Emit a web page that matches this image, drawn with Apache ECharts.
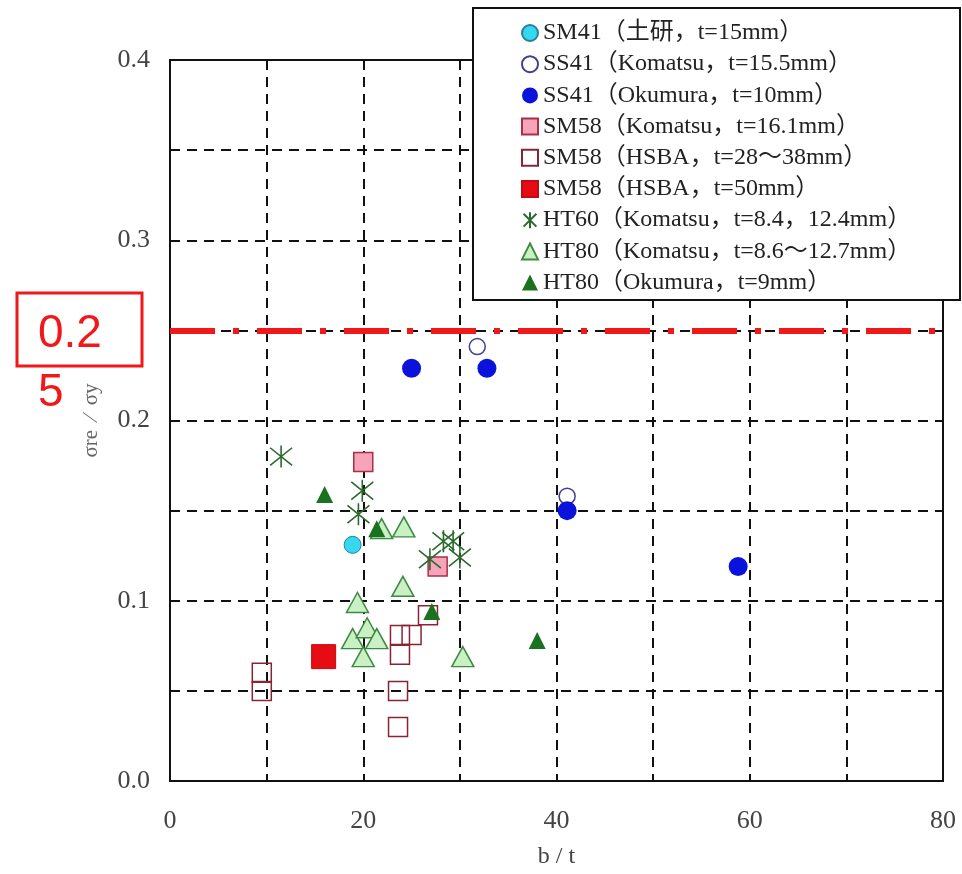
<!DOCTYPE html>
<html>
<head>
<meta charset="utf-8">
<script src="https://cdn.jsdelivr.net/npm/echarts@6/dist/echarts.min.js"></script>
<style>
  html, body { margin: 0; padding: 0; background: #fff; }
  #chart { width: 962px; height: 874px; }
</style>
</head>
<body>
<div id="chart"></div>
<script>
// data: [b/t, σre/σy]
const sm41Doken = [[18.9, 0.131]];
const ss41Komatsu = [[31.8, 0.241], [41.1, 0.158]];
const ss41Okumura = [[25.0, 0.229], [32.8, 0.229], [41.1, 0.150], [58.8, 0.119]];
const sm58Komatsu = [[20.0, 0.177], [27.7, 0.119]];
const sm58Hsba = [[9.5, 0.060], [9.5, 0.050], [23.8, 0.081], [25.0, 0.081], [23.8, 0.070],
                  [23.6, 0.050], [23.6, 0.030], [26.7, 0.092]];
const sm58Hsba50 = [[15.9, 0.069]];
const ht60Komatsu = [[11.5, 0.180], [19.9, 0.161], [19.5, 0.148], [26.9, 0.123],
                     [28.3, 0.133], [29.3, 0.133], [30.0, 0.124]];
const ht80Komatsu = [[21.9, 0.140], [24.2, 0.141], [24.1, 0.108], [19.4, 0.099], [18.9, 0.079],
                     [20.4, 0.085], [21.4, 0.079], [20.0, 0.069], [30.3, 0.069]];
const ht80Okumura = [[16.0, 0.159], [21.4, 0.140], [27.1, 0.094], [38.0, 0.078]];

const seriesNames = [
  'SM41（土研，t=15mm）',
  'SS41（Komatsu，t=15.5mm）',
  'SS41（Okumura，t=10mm）',
  'SM58（Komatsu，t=16.1mm）',
  'SM58（HSBA，t=28～38mm）',
  'SM58（HSBA，t=50mm）',
  'HT60（Komatsu，t=8.4，12.4mm）',
  'HT80（Komatsu，t=8.6～12.7mm）',
  'HT80（Okumura，t=9mm）'
];
const limitValue = 0.25;

const serif = '"Liberation Serif", "Noto Sans CJK JP", serif';
const asterisk = 'path://M10,0L10,20M2,2L18,18M2,18L18,2';

var chart = echarts.init(document.getElementById('chart'));

function scatter(name, data, symbol, size, style) {
  style.opacity = 1;
  return { name: name, type: 'scatter', data: data, symbol: symbol, symbolSize: size,
           itemStyle: style, emphasis: { disabled: true } };
}

chart.setOption({
  backgroundColor: '#fff',
  animation: false,
  grid: { left: 170, right: 19, top: 60, bottom: 91, show: true,
          borderColor: '#111', borderWidth: 2, backgroundColor: 'transparent' },
  xAxis: {
    type: 'value', min: 0, max: 80, interval: 10,
    name: 'b / t', nameLocation: 'middle', nameGap: 64,
    nameTextStyle: { fontFamily: serif, fontSize: 24, color: '#444' },
    axisLine: { show: true, lineStyle: { color: '#111', width: 2 } },
    axisTick: { show: false },
    axisLabel: { margin: 27, fontFamily: serif, fontSize: 26, color: '#444',
                 formatter: v => (v % 20 === 0 ? String(v) : '') },
    splitLine: { show: true, lineStyle: { color: '#111', width: 2, type: [10, 7] } }
  },
  yAxis: {
    type: 'value', min: 0, max: 0.4, interval: 0.05,
    name: 'σre  ⁄  σy', nameLocation: 'middle', nameGap: 68, nameRotate: 90,
    nameTextStyle: { fontFamily: serif, fontSize: 21, color: '#666' },
    axisLine: { show: true, lineStyle: { color: '#111', width: 2 } },
    axisTick: { show: false },
    axisLabel: { margin: 20, fontFamily: serif, fontSize: 26, color: '#444',
                 formatter: v => (Math.round(v * 100) % 10 === 0 ? v.toFixed(1) : '') },
    splitLine: { show: true, lineStyle: { color: '#111', width: 2, type: [10, 7] } }
  },
  legend: {
    orient: 'vertical', left: 521, top: 21, padding: 0,
    itemWidth: 16, itemHeight: 16, itemGap: 7.2, selectedMode: false,
    textStyle: { fontFamily: serif, fontSize: 24, lineHeight: 24, color: '#222' },
    data: seriesNames
  },
  graphic: [
    { type: 'rect', z: 3, shape: { x: 473, y: 8, width: 487, height: 292 },
      style: { fill: '#fff', stroke: '#111', lineWidth: 2 } },
    { type: 'rect', z: 5, shape: { x: 17, y: 293, width: 125, height: 73 },
      style: { fill: 'none', stroke: '#f01818', lineWidth: 3 } },
    { type: 'text', z: 5, left: 38, top: 311,
      style: { text: '0.2', fill: '#f01818', font: '46px "Liberation Sans", Arial, sans-serif' } },
    { type: 'text', z: 5, left: 38, top: 370,
      style: { text: '5', fill: '#f01818', font: '46px "Liberation Sans", Arial, sans-serif' } }
  ],
  series: [
    scatter(seriesNames[0], sm41Doken, 'circle', 17,
            { color: '#35d8ee', borderColor: '#2a7f9a', borderWidth: 1 }),
    scatter(seriesNames[1], ss41Komatsu, 'circle', 16,
            { color: 'rgba(255,255,255,0)', borderColor: '#3f3f96', borderWidth: 1.5 }),
    scatter(seriesNames[2], ss41Okumura, 'circle', 19,
            { color: '#0a12dc', borderColor: '#0a12dc', borderWidth: 0 }),
    scatter(seriesNames[3], sm58Komatsu, 'rect', 19,
            { color: '#f7a3ba', borderColor: '#a83048', borderWidth: 1.5 }),
    scatter(seriesNames[4], sm58Hsba, 'rect', 19,
            { color: 'rgba(255,255,255,0)', borderColor: '#8a2434', borderWidth: 1.5 }),
    scatter(seriesNames[5], sm58Hsba50, 'rect', 24,
            { color: '#e60c14', borderColor: '#c40a12', borderWidth: 1 }),
    scatter(seriesNames[6], ht60Komatsu, asterisk, 22,
            { color: 'rgba(255,255,255,0)', borderColor: '#2a6a2e', borderWidth: 1.6 }),
    scatter(seriesNames[7], ht80Komatsu, 'triangle', [22, 20],
            { color: '#c9f1c4', borderColor: '#3e8a44', borderWidth: 1.5 }),
    {
      name: seriesNames[8], type: 'scatter', data: ht80Okumura, symbol: 'triangle', symbolSize: 17,
      itemStyle: { color: '#1a721f', borderColor: '#1a721f', borderWidth: 0, opacity: 1 },
      emphasis: { disabled: true },
      markLine: {
        silent: true, symbol: 'none', label: { show: false },
        lineStyle: { color: '#f01818', width: 6, type: [45, 18, 6, 18], opacity: 1 },
        data: [{ yAxis: limitValue }]
      }
    }
  ]
});
</script>
</body>
</html>
